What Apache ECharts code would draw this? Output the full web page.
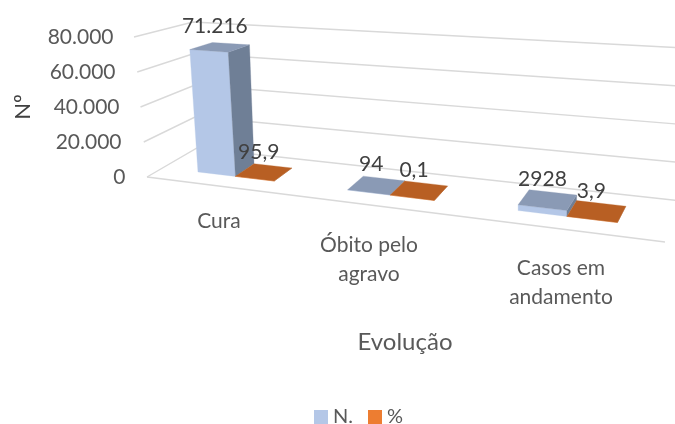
<!DOCTYPE html>
<html><head><meta charset="utf-8">
<style>html,body{margin:0;padding:0;background:#fff}#c{width:675px;height:424px}</style>
<script src="https://cdn.jsdelivr.net/npm/echarts@6/dist/echarts.min.js"></script>
</head><body><div id="c"></div>
<script>
const categories = ['Cura', 'Óbito pelo\nagravo', 'Casos em\nandamento'];
const valuesN = [71216, 94, 2928];
const valuesPct = [95.9, 0.1, 3.9];
const labelsN = ['71.216', '94', '2928'];
const labelsPct = ['95,9', '0,1', '3,9'];
const yTicks = [0, 20000, 40000, 60000, 80000];
const yTickLabels = ['0', '20.000', '40.000', '60.000', '80.000'];

const FONT = 'Lato';
// perspective box: corners of the plot volume on the page
const C = {
  b: { fl: [147, 177], fr: [665, 242], bl: [197, 148], br: [682, 201] },
  t: { fl: [134, 37], fr: [670, 73], bl: [193, 22], br: [684, 48] }
};
const lerp = (a, b, k) => [a[0] + (b[0] - a[0]) * k, a[1] + (b[1] - a[1]) * k];
function proj(t, d, h, raw) {
  const u = raw ? t : 0.004 + 0.985 * 0.82 * t / (1 - 0.18 * t);
  const bot = lerp(lerp(C.b.fl, C.b.fr, u), lerp(C.b.bl, C.b.br, u), d);
  const top = lerp(lerp(C.t.fl, C.t.fr, u), lerp(C.t.bl, C.t.br, u), d);
  return lerp(bot, top, h);
}
const D0 = 0.32, D1 = 0.73, BAR = 0.2625;
function poly(points, fill) {
  return { type: 'polygon', shape: { points }, style: { fill, stroke: fill, lineWidth: 0.3 } };
}
function barRenderer(side, front, top, sideCol, labels, dx, dy) {
  return function (params, api) {
    const cs = params.coordSys;
    const p = api.coord([api.value(0), api.value(1)]);
    const bw = api.size([1, 0])[0] * BAR;
    const x0 = side < 0 ? p[0] - bw : p[0], x1 = x0 + bw;
    const t0 = (x0 - cs.x) / cs.width, t1 = (x1 - cs.x) / cs.width;
    const h = (cs.y + cs.height - p[1]) / cs.height;
    const A = proj(t0, D0, 0), B = proj(t1, D0, 0), E = proj(t1, D1, 0);
    const A2 = proj(t0, D0, h), B2 = proj(t1, D0, h), E2 = proj(t1, D1, h), F2 = proj(t0, D1, h);
    const cx = proj((t0 + t1) / 2, (D0 + D1) / 2, h);
    return { type: 'group', children: [
      poly([A, B, B2, A2], front),
      poly([B, E, E2, B2], sideCol),
      poly([A2, B2, E2, F2], top),
      { type: 'text', style: { text: labels[params.dataIndex], x: cx[0] + dx, y: cx[1] + dy,
        fill: '#404040', font: '21px ' + FONT, align: 'center', verticalAlign: 'middle' } }
    ] };
  };
}
function gridRenderer(params, api) {
  const cs = params.coordSys;
  const y = api.coord([0, api.value(0)])[1];
  const h = (cs.y + cs.height - y) / cs.height;
  const style = { stroke: '#d9d9d9', lineWidth: 1.4, fill: null };
  const children = [{ type: 'polyline', shape: { points: [proj(0, 0, h, true), proj(0, 1, h, true), proj(1, 1, h, true)] }, style }];
  if (api.value(0) === 0) children.push({ type: 'polyline', shape: { points: [proj(0, 0, 0, true), proj(1, 0, 0, true)] }, style });
  return { type: 'group', children };
}
const yPad = { '0': 0, '20.000': 4, '40.000': 6, '60.000': 10, '80.000': 12 };
const chart = echarts.init(document.getElementById('c'));
chart.setOption({
  animation: false,
  textStyle: { fontFamily: FONT },
  grid: { left: 133.5, width: 513, top: 37, height: 140, containLabel: false },
  legend: { data: ['N.', '%'], left: 314, top: 407, icon: 'rect', itemWidth: 14, itemHeight: 14, itemGap: 15,
    textStyle: { fontFamily: FONT, fontSize: 20, color: '#595959' }, padding: 0 },
  xAxis: { type: 'category', data: categories,
    axisLine: { show: false }, axisTick: { show: false }, splitLine: { show: false },
    name: 'Evolução', nameLocation: 'middle', nameGap: 153,
    nameTextStyle: { fontFamily: FONT, fontSize: 24, color: '#595959', padding: [0, 0, 0, 30] },
    axisLabel: { interval: 0, margin: 0, color: '#595959', fontFamily: FONT, fontSize: 21, lineHeight: 29, hideOverlap: false,
      formatter: (v, i) => `{s${i}|\u00a0}\n` + v.split('\n').map(s => `{t${i}|${s}}`).join('\n'),
      rich: {
        s0: { lineHeight: 30, fontSize: 1 }, s1: { lineHeight: 54, fontSize: 1 }, s2: { lineHeight: 77, fontSize: 1 },
        t0: { lineHeight: 29 }, t1: { lineHeight: 29, padding: [0, 42, 0, 0] }, t2: { lineHeight: 29 }
      } } },
  yAxis: { type: 'value', min: 0, max: 80000, interval: 20000,
    axisLine: { show: false }, axisTick: { show: false }, splitLine: { show: false },
    name: 'Nº', nameLocation: 'middle', nameGap: 100, nameRotate: 90,
    nameTextStyle: { fontFamily: FONT, fontSize: 22, color: '#404040' },
    axisLabel: { margin: 8, color: '#595959', fontFamily: FONT, fontSize: 21,
      formatter: (v) => { const s = yTickLabels[yTicks.indexOf(v)]; return `{a${yPad[s]}|${s}}`; },
      rich: Object.fromEntries(Object.values(yPad).map(p => ['a' + p, { padding: [0, p, 0, 0] }])) } },
  series: [
    { type: 'custom', name: 'grid', z: 1, silent: true, clip: false, renderItem: gridRenderer,
      data: yTicks.map(v => [v]), encode: { y: 0 } },
    { type: 'custom', name: 'N.', z: 2, clip: false, itemStyle: { color: '#b4c7e7' },
      renderItem: barRenderer(-1, '#b4c7e7', '#8a9ab5', '#6f7f96', labelsN, -5, -21),
      data: valuesN.map((v, i) => [i, v]), encode: { x: 0, y: 1 } },
    { type: 'custom', name: '%', z: 3, clip: false, itemStyle: { color: '#ed7d31' },
      renderItem: barRenderer(1, '#ed7d31', '#b85f23', '#a0521e', labelsPct, -5, -20),
      data: valuesPct.map((v, i) => [i, v]), encode: { x: 0, y: 1 } }
  ]
});
</script></body></html>
